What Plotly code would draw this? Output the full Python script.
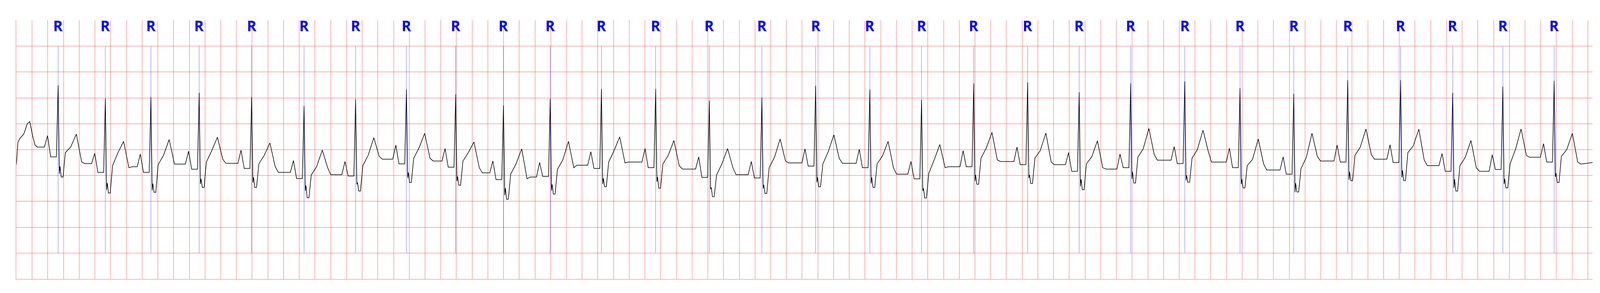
import plotly.graph_objects as go

# R-peak times (s)
r_time = [0.531, 1.132, 1.712, 2.326, 2.994, 3.661, 4.317, 4.964, 5.591, 6.199,
          6.794, 7.446, 8.136, 8.819, 9.488, 10.172, 10.862, 11.520, 12.184, 12.870,
          13.526, 14.181, 14.870, 15.573, 16.257, 16.944, 17.617, 18.280, 18.918, 19.571]

# per-beat levels (mV)
tp_base = [0.05, -0.27, -0.33, -0.28, -0.265, -0.44, -0.485, -0.185, -0.22, -0.45,
           -0.53, -0.30, -0.24, -0.376, -0.485, -0.257, -0.265, -0.474, -0.33, -0.23,
           -0.29, -0.376, -0.203, -0.24, -0.395, -0.22, -0.185, -0.31, -0.42, -0.148]
p_peak = [0.27, -0.07, -0.087, -0.03, -0.01, -0.21, -0.23, 0.087, 0.02, -0.22,
          -0.25, -0.04, 0.02, -0.14, -0.23, 0.015, 0.007, -0.228, -0.02, 0.05,
          -0.058, -0.087, 0.06, 0.025, -0.14, 0.087, 0.094, -0.076, -0.10, 0.116]
pr_seg = [-0.14, -0.44, -0.44, -0.38, -0.365, -0.56, -0.51, -0.275, -0.34, -0.58,
          -0.52, -0.365, -0.35, -0.536, -0.547, -0.32, -0.35, -0.565, -0.33, -0.29,
          -0.42, -0.35, -0.27, -0.35, -0.474, -0.24, -0.25, -0.42, -0.384, -0.24]
r_peak = [1.245, 0.985, 1.017, 1.10, 1.017, 0.847, 0.974, 1.166, 1.07, 0.854,
          0.98, 1.173, 1.173, 0.95, 1.01, 1.235, 1.162, 0.967, 1.28, 1.30,
          1.11, 1.28, 1.32, 1.19, 1.08, 1.343, 1.347, 1.10, 1.22, 1.33]
s_first = [-0.47, -0.78, -0.79, -0.665, -0.637, -0.80, -0.67, -0.547, -0.61, -0.88,
           -0.79, -0.666, -0.62, -0.764, -0.753, -0.63, -0.655, -0.80, -0.61, -0.547,
           -0.71, -0.565, -0.594, -0.666, -0.825, -0.587, -0.536, -0.74, -0.666, -0.53]
s_notch = [-0.32, -0.645, -0.655, -0.565, -0.535, -0.69, -0.637, -0.44, -0.52, -0.745,
           -0.67, -0.554, -0.53, -0.73, -0.68, -0.536, -0.536, -0.745, -0.49, -0.49,
           -0.57, -0.43, -0.50, -0.57, -0.648, -0.43, -0.40, -0.575, -0.565, -0.456]
s_second = [-0.53, -0.84, -0.825, -0.73, -0.73, -0.93, -0.80, -0.637, -0.69, -0.96,
            -0.86, -0.717, -0.745, -0.91, -0.847, -0.717, -0.73, -0.934, -0.67, -0.655,
            -0.775, -0.645, -0.63, -0.74, -0.82, -0.60, -0.60, -0.80, -0.74, -0.637]
st_j = [-0.06, -0.31, -0.29, -0.24, -0.275, -0.49, -0.31, -0.167, -0.22, -0.474,
        -0.38, -0.24, -0.275, -0.49, -0.35, -0.275, -0.275, -0.456, -0.167, -0.167,
        -0.275, -0.148, -0.167, -0.31, -0.37, -0.112, -0.058, -0.31, -0.275, -0.13]
st_mid = [0.05, -0.06, -0.11, -0.02, -0.11, -0.33, -0.11, 0.033, -0.06, -0.275,
          -0.20, -0.02, -0.11, -0.275, -0.148, -0.04, -0.123, -0.20, 0.033, -0.02,
          -0.138, 0.015, 0.0, -0.185, -0.148, 0.05, 0.07, -0.148, 0.0, 0.0]
t_peak = [0.30, 0.16, 0.195, 0.24, 0.13, -0.01, 0.23, 0.315, 0.148, 0.015,
          0.16, 0.246, 0.177, 0.02, 0.206, 0.286, 0.16, 0.098, 0.333, 0.32,
          0.17, 0.41, 0.377, 0.206, 0.315, 0.40, 0.395, 0.177, 0.40, 0.315]
t_end = [-0.24, -0.35, -0.28, -0.185, -0.33, -0.35, -0.13, -0.167, -0.35, -0.565,
         -0.35, -0.257, -0.31, -0.35, -0.22, -0.167, -0.35, -0.35, -0.20, -0.24,
         -0.35, -0.094, -0.04, -0.275, -0.13, -0.094, -0.20, -0.35, -0.112, -0.24]

# start of the strip (tail of a T wave) and the end after the last beat
lead_t = [0.0, 0.019, 0.041, 0.093, 0.139, 0.170, 0.206, 0.236, 0.267]
lead_mv = [-0.29, 0.14, 0.21, 0.30, 0.50, 0.54, 0.27, 0.09, 0.05]
tail_t = [19.911, 20.06]
tail_mv = [-0.28, -0.25]

# time of each reading relative to its R peak (s)
offsets = [-0.175, -0.135, -0.095, -0.022, 0.0, 0.016, 0.024, 0.040, 0.062,
           0.092, 0.160, 0.232, 0.300]

t = list(lead_t)
mv = list(lead_mv)
for i, tr in enumerate(r_time):
    levels = [tp_base[i], p_peak[i], pr_seg[i], pr_seg[i], r_peak[i], s_first[i],
              s_notch[i], s_second[i], s_second[i], st_j[i], st_mid[i], t_peak[i], t_end[i]]
    for off, v in zip(offsets, levels):
        t.append(tr + off)
        mv.append(v)
    if i + 1 < len(r_time):
        t.append(tr + 0.34)
        mv.append(tp_base[i + 1])
t += tail_t
mv += tail_mv

fig = go.Figure()
fig.add_trace(go.Scatter(x=t, y=mv, mode="lines",
                         line=dict(color="black", width=1.5), showlegend=False))

# R markers
for tr in r_time:
    fig.add_shape(type="line", x0=tr, x1=tr, y0=-2, y1=2, xref="x", yref="y",
                  line=dict(color="rgba(0,0,255,0.55)", width=1))
    fig.add_annotation(x=tr, y=2.4, text="<b>R</b>", showarrow=False,
                       font=dict(family="Open Sans", size=37, color="blue"))

grid = "rgba(255,0,0,0.3)"
fig.update_xaxes(range=[0, 20.06], tick0=0, dtick=0.2, showgrid=True, gridcolor=grid,
                 gridwidth=1.5, showline=True, linecolor=grid, linewidth=1.5,
                 showticklabels=False, zeroline=False, ticks="")
fig.update_yaxes(range=[-2.5, 2.5], tick0=0, dtick=0.5, showgrid=True, gridcolor=grid,
                 gridwidth=1.5, showline=True, linecolor=grid, linewidth=1.5,
                 showticklabels=False, zeroline=False, ticks="")
fig.update_layout(autosize=True, height=750, margin=dict(l=34, r=11, t=44, b=44),
                  plot_bgcolor="white", paper_bgcolor="white")

fig.write_html("out.html")
